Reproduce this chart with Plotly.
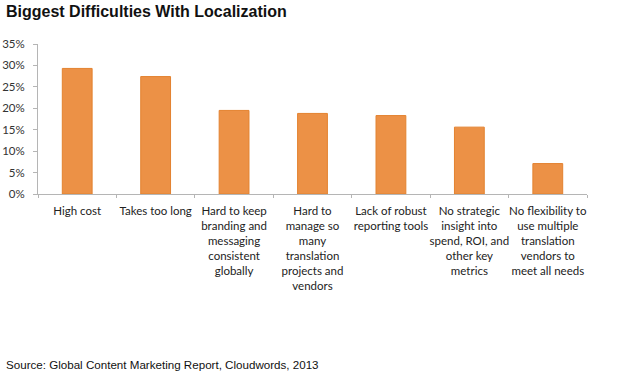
import plotly.graph_objects as go

categories = [
    "High cost",
    "Takes too long",
    "Hard to keep<br>branding and<br>messaging<br>consistent<br>globally",
    "Hard to<br>manage so<br>many<br>translation<br>projects and<br>vendors",
    "Lack of robust<br>reporting tools",
    "No strategic<br>insight into<br>spend, ROI, and<br>other key<br>metrics",
    "No flexibility to<br>use multiple<br>translation<br>vendors to<br>meet all needs",
]
values = [29.3, 27.4, 19.5, 18.8, 18.3, 15.6, 7.1]
y_ticks = [0, 5, 10, 15, 20, 25, 30, 35]
y_tick_labels = [f"{v}%" for v in y_ticks]

fig = go.Figure()
fig.add_trace(go.Bar(
    x=categories, y=values,
    marker=dict(color="#EC9146", line=dict(color="#E3822F", width=1)),
    width=0.38,
))

fig.update_layout(
    width=630, height=382,
    margin=dict(l=38, r=43, t=44, b=188, autoexpand=False),
    plot_bgcolor="white", paper_bgcolor="white",
    showlegend=False,
    font=dict(family="Lato, Open Sans, sans-serif", size=11, color="#222"),
)
fig.update_yaxes(
    range=[0, 35], tickvals=y_ticks, ticktext=y_tick_labels,
    showgrid=False, showline=True, linecolor="#b5b5b5", linewidth=1,
    ticks="outside", ticklen=4, tickcolor="#b5b5b5",
    tickfont=dict(size=11.5, color="#333"), zeroline=False,
    automargin=False, ticklabelstandoff=6,
)
fig.update_xaxes(
    showline=True, linecolor="#b5b5b5", linewidth=1,
    ticks="outside", ticklen=3, tickcolor="#b5b5b5", tickson="boundaries",
    tickfont=dict(size=11.5, color="#222"), tickangle=0,
    ticklabelstandoff=6, automargin=False,
)

fig.add_annotation(
    text="<b>Biggest Difficulties With Localization</b>",
    xref="paper", yref="paper", x=-34/549, y=1 + 33/150,
    xanchor="left", yanchor="middle", showarrow=False,
    font=dict(family="Liberation Sans, Arial, sans-serif", size=16, color="#111"),
)
fig.add_annotation(
    text="Source: Global Content Marketing Report, Cloudwords, 2013",
    xref="paper", yref="paper", x=-34/549, y=-(364 - 194) / 150,
    xanchor="left", yanchor="middle", showarrow=False,
    font=dict(family="Liberation Sans, Arial, sans-serif", size=11.6, color="#111"),
)

fig.write_html(
    "out.html",
    config={"displayModeBar": False},
    post_script="document.body.style.margin='0';document.body.style.padding='0';document.documentElement.style.overflow='hidden';",
)
